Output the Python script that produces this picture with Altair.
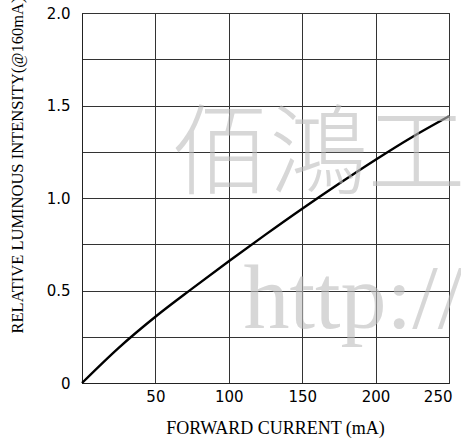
import altair as alt
import pandas as pd

# Curve values
current_ma = [0, 25, 50, 75, 100, 125, 150, 175, 200, 225, 250]
rel_intensity = [0.0, 0.19, 0.358, 0.51, 0.658, 0.802, 0.942, 1.077, 1.207, 1.33, 1.442]

x_ticks = [0, 25, 50, 75, 100, 125, 150, 175, 200, 225, 250]
y_ticks = [0, 0.25, 0.5, 0.75, 1.0, 1.25, 1.5, 1.75, 2.0]

wm_text = ["佰鴻工", "http://"]
wm_x = [61, 110]
wm_y = [1.22, 0.298]

df = pd.DataFrame({"current": current_ma, "intensity": rel_intensity})
wm1 = pd.DataFrame({"t": [wm_text[0]], "x": [wm_x[0]], "y": [wm_y[0]]})
wm2 = pd.DataFrame({"t": [wm_text[1]], "x": [wm_x[1]], "y": [wm_y[1]]})

xscale = alt.Scale(domain=[0, 250], nice=False)
yscale = alt.Scale(domain=[0, 2], nice=False)

x_axis = alt.Axis(
    values=x_ticks,
    grid=True,
    gridColor="#333333",
    gridWidth=1,
    gridOpacity=1,
    ticks=False,
    domainColor="#222222",
    labelExpr="datum.value > 0 && datum.value % 50 == 0 ? datum.label : ''",
    labelFont="DejaVu Sans",
    labelFontSize=15,
    labelColor="#000000",
    labelPadding=6,
    labelFlush=True,
    labelFlushOffset=3,
    title="FORWARD CURRENT (mA)",
    titleFont="Liberation Serif",
    titleFontSize=18,
    titleFontWeight="normal",
    titleColor="#000000",
    titleX=193,
    titleY=45,
    titleAlign="center",
    titleBaseline="middle",
)

y_axis = alt.Axis(
    values=y_ticks,
    grid=True,
    gridColor="#333333",
    gridWidth=1,
    gridOpacity=1,
    ticks=False,
    domainColor="#222222",
    labelExpr="datum.value == 0 ? '0' : ((datum.value * 2) % 1 == 0 ? format(datum.value, '.1f') : '')",
    labelFont="DejaVu Sans",
    labelFontSize=15,
    labelColor="#000000",
    labelPadding=12,
    title="RELATIVE LUMINOUS INTENSITY(@160mA)",
    titleFont="Liberation Serif",
    titleFontSize=16.5,
    titleFontWeight="normal",
    titleColor="#000000",
    titleAngle=270,
    titleX=-65,
    titleY=320,
    titleAlign="left",
    titleBaseline="middle",
)

line = alt.Chart(df).mark_line(
    color="#000000", strokeWidth=2.4, interpolate="monotone"
).encode(
    x=alt.X("current:Q", scale=xscale, axis=x_axis),
    y=alt.Y("intensity:Q", scale=yscale, axis=y_axis),
)

wm_cjk = alt.Chart(wm1).mark_text(
    font="Noto Sans CJK TC",
    fontSize=98,
    fontWeight=300,
    color="#bdbdbd",
    opacity=0.6,
    align="left",
    baseline="middle",
).encode(
    x=alt.X("x:Q", scale=xscale),
    y=alt.Y("y:Q", scale=yscale),
    text="t:N",
)

wm_http = alt.Chart(wm2).mark_text(
    font="Liberation Serif",
    fontSize=92,
    color="#bdbdbd",
    opacity=0.6,
    align="left",
    baseline="alphabetic",
).encode(
    x=alt.X("x:Q", scale=xscale),
    y=alt.Y("y:Q", scale=yscale),
    text="t:N",
)

chart = alt.layer(line, wm_cjk, wm_http).properties(
    width=367,
    height=370,
    autosize=alt.AutoSizeParams(type="none"),
    padding={"left": 82, "top": 13, "right": 12, "bottom": 56},
    background="#ffffff",
).configure_view(
    stroke="#222222", strokeWidth=1
)

chart.save("out.html", embed_options={"renderer": "svg", "actions": False})
